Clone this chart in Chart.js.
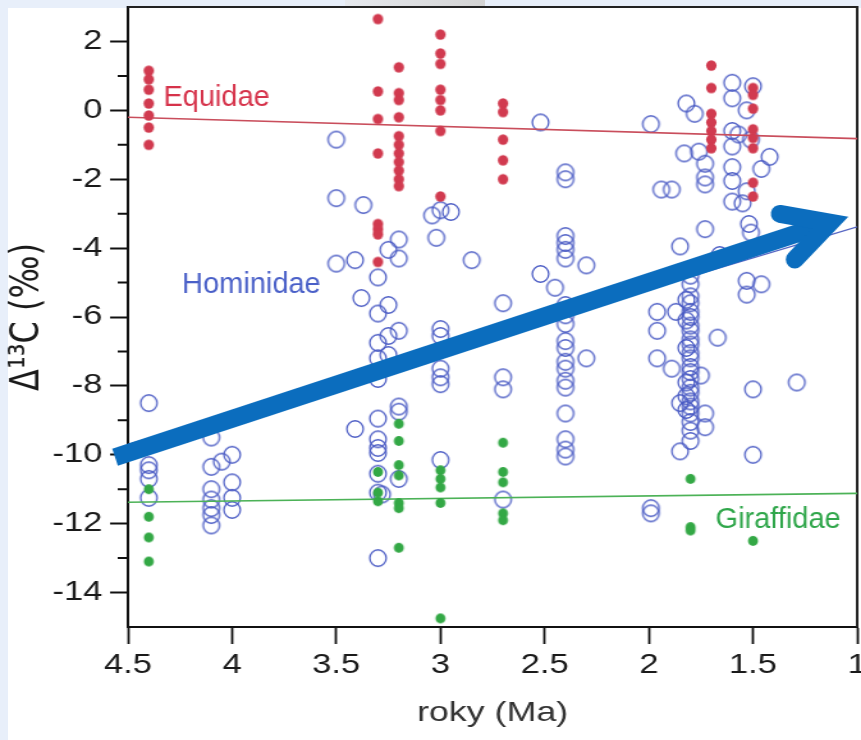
<!DOCTYPE html>
<html>
<head>
<meta charset="utf-8">
<script src="https://cdn.jsdelivr.net/npm/chart.js@4.4.1/dist/chart.umd.min.js"></script>
<style>
  html, body { margin: 0; padding: 0; }
  body { width: 861px; height: 740px; overflow: hidden; background: #e8effa; position: relative; }
  #sheet { position: absolute; left: 8px; top: 8px; right: 0; bottom: 0; background: #fff; }
  #tab { position: absolute; left: 345px; top: 0; width: 140px; height: 8px; background: linear-gradient(90deg, #e6e9ee, #d3d3d3); }
  #wrap { position: absolute; left: 0; top: 0; width: 673px; height: 740px; transform: scaleX(1.27935); transform-origin: 0 0; }
</style>
</head>
<body>
<div id="sheet"></div>
<div id="tab"></div>
<div id="wrap"><canvas id="chart"></canvas></div>
<script>
// axis ticks
const xTicks = [4.5, 4, 3.5, 3, 2.5, 2, 1.5, 1];
const yTicks = [-14, -12, -10, -8, -6, -4, -2, 0, 2];
const yMinorTicks = [-13, -11, -9, -7, -5, -3, -1, 1];

// [age (Ma), values of delta 13C at that age]
const equidaeColumns = [
  [4.4, [1.15, 0.9, 0.6, 0.2, -0.15, -0.5, -1.0]],
  [3.3, [2.65, 0.55, -0.25, -1.25, -3.3, -3.45, -3.6, -4.4]],
  [3.2, [1.25, 0.5, 0.3, -0.2, -0.75, -1.0, -1.25, -1.5, -1.75, -2.0, -2.2]],
  [3.0, [2.2, 1.65, 1.35, 0.6, 0.3, 0.0, -0.6, -2.5]],
  [2.7, [0.2, -0.05, -0.85, -1.45, -2.0]],
  [1.7, [1.3, 0.65, -0.1, -0.35, -0.6, -0.85, -1.1]],
  [1.5, [0.65, 0.45, 0.05, -0.55, -0.8, -1.1, -2.1, -2.5]]
];

const giraffidaeColumns = [
  [4.4, [-11.0, -11.8, -12.4, -13.1]],
  [3.3, [-10.5, -11.1, -11.35]],
  [3.2, [-9.1, -9.6, -10.3, -10.6, -11.4, -11.55, -12.7]],
  [3.0, [-10.45, -10.7, -10.95, -11.4, -14.75]],
  [2.7, [-9.65, -10.5, -10.8, -11.7, -11.9]],
  [1.8, [-10.7, -12.1, -12.2]],
  [1.5, [-12.5]]
];

const hominidaeColumns = [
  [4.4, [-8.5, -10.3, -10.45, -10.7, -11.25]],
  [4.1, [-9.5, -10.35, -11.0, -11.3, -11.55, -11.75, -12.05]],
  [4.05, [-10.2]],
  [4.0, [-10.0, -10.8, -11.25, -11.6]],
  [3.5, [-0.85, -2.55, -4.45]],
  [3.41, [-4.35, -9.25]],
  [3.38, [-5.45]],
  [3.37, [-2.75]],
  [3.3, [-4.85, -5.9, -6.75, -7.2, -7.8, -8.95, -9.55, -9.8, -9.95, -10.55, -11.1, -13.0]],
  [3.28, [-11.15]],
  [3.25, [-4.05, -5.65, -6.55, -7.1]],
  [3.2, [-3.75, -4.3, -6.4, -8.6, -8.75, -10.7]],
  [3.04, [-3.05]],
  [3.02, [-3.7]],
  [3.0, [-2.9, -6.35, -6.55, -7.5, -7.75, -7.95, -10.15]],
  [2.95, [-2.95]],
  [2.85, [-4.35]],
  [2.7, [-5.6, -7.75, -8.1, -11.3]],
  [2.52, [-0.35, -4.75]],
  [2.45, [-5.15]],
  [2.4, [-1.8, -2.0, -3.65, -3.85, -4.05, -4.3, -5.65, -5.95, -6.2, -6.7, -6.9, -7.3, -7.5, -7.85, -8.05, -8.8, -9.55, -9.85, -10.05]],
  [2.3, [-4.5, -7.2]],
  [1.99, [-0.4, -11.55, -11.7]],
  [1.96, [-5.85, -6.4, -7.2]],
  [1.94, [-2.3]],
  [1.89, [-2.3, -7.5]],
  [1.87, [-5.85]],
  [1.85, [-3.95, -8.5, -9.9]],
  [1.83, [-1.25]],
  [1.82, [0.2, -5.5, -6.1, -6.9, -7.9, -8.3, -8.7]],
  [1.8, [-4.8, -5.05, -5.4, -5.6, -5.85, -6.0, -6.25, -6.4, -6.65, -6.8, -7.05, -7.2, -7.45, -7.6, -7.8, -8.05, -8.2, -8.45, -8.6, -8.8, -9.05, -9.3, -9.6]],
  [1.78, [-0.1]],
  [1.76, [-1.2]],
  [1.75, [-7.7]],
  [1.73, [-1.55, -1.95, -2.15, -3.45, -8.8, -9.2]],
  [1.67, [-6.6]],
  [1.66, [-4.2]],
  [1.6, [0.8, 0.35, -0.6, -1.05, -1.65, -2.05, -2.65]],
  [1.57, [-0.7]],
  [1.55, [-2.7]],
  [1.53, [0.0, -2.35, -4.95, -5.35]],
  [1.52, [-3.3]],
  [1.51, [-0.85, -3.55]],
  [1.5, [0.7, -8.1, -10.0]],
  [1.46, [-1.7, -5.05]],
  [1.42, [-1.35]],
  [1.29, [-7.9]]
];

// fitted trend lines, [age, value] at both ends
const equidaeTrend = [[4.5, -0.2], [1, -0.82]];
const hominidaeTrend = [[4.5, -9.7], [1, -3.38]];
const giraffidaeTrend = [[4.5, -11.38], [1, -11.12]];

// in-plot annotations (data coordinates)
const taxonLabels = ["Equidae", "Hominidae", "Giraffidae"];
const taxonLabelAnchors = [[4.33, 0.13], [4.24, -5.3], [1.68, -12.14]];
const arrowFrom = [4.562, -10.07];
const arrowTo = [1.13, -3.26];

// the reference image is stretched sideways; draw in narrow space and stretch with css
const S = 861 / 673;
const FONT = "'Liberation Sans', Arial, Helvetica, sans-serif";
const RED = "#d13a4f", BLUE = "#4a5bc4", GREEN = "#33a845", ARROW = "#0b6dbe";
const labelColors = ["#d6334b", "#4a60c8", "#2fa64a"];

function toPoints(columns) {
  const out = [];
  columns.forEach(([x, ys]) => ys.forEach((y) => out.push({ x, y })));
  return out;
}
function linePoints(pairs) { return pairs.map(([x, y]) => ({ x, y })); }

// round marker drawn pre-squeezed so it comes out round after the css stretch
function marker(r, fill, stroke, lw) {
  const h = Math.ceil(2 * r + lw + 2);
  const w = Math.ceil(h / S) + 1;
  const c = document.createElement("canvas");
  c.width = w; c.height = h;
  const g = c.getContext("2d");
  g.translate(w / 2, h / 2);
  g.scale(1 / S, 1);
  g.beginPath();
  g.arc(0, 0, r, 0, Math.PI * 2);
  if (fill) { g.fillStyle = fill; g.fill(); }
  if (stroke) { g.lineWidth = lw; g.strokeStyle = stroke; g.stroke(); }
  return c;
}

// keep the edge tick labels from shrinking the plot area
function noLabelPadding(s) {
  s.paddingLeft = s.paddingRight = s.paddingTop = s.paddingBottom = 0;
}

const framePlugin = {
  id: "frame",
  beforeDatasetsDraw(chart) {
    const { ctx, chartArea: a } = chart;
    const ys = chart.scales.y;
    ctx.save();
    ctx.strokeStyle = "#222";
    ctx.lineWidth = 2;
    ctx.beginPath();
    ctx.moveTo(a.left, a.top);
    ctx.lineTo(a.right, a.top);
    ctx.lineTo(a.right, a.bottom);
    ctx.stroke();
    ctx.strokeStyle = "#111";
    ctx.beginPath();
    yMinorTicks.forEach((v) => {
      const p = ys.getPixelForValue(v);
      ctx.moveTo(a.left - 8, p);
      ctx.lineTo(a.left, p);
    });
    ctx.stroke();
    ctx.restore();
  }
};

const annotationPlugin = {
  id: "annotations",
  afterDatasetsDraw(chart) {
    const { ctx } = chart;
    const xs = chart.scales.x, ys = chart.scales.y;
    ctx.save();
    ctx.font = "29px " + FONT;
    ctx.textBaseline = "alphabetic";
    taxonLabels.forEach((t, i) => {
      const [lx, ly] = taxonLabelAnchors[i];
      ctx.save();
      ctx.translate(xs.getPixelForValue(lx), ys.getPixelForValue(ly));
      ctx.scale(1 / S, 1);
      ctx.fillStyle = labelColors[i];
      ctx.fillText(t, 0, 0);
      ctx.restore();
    });
    ctx.restore();

    // big arrow, worked out in the stretched (on screen) space
    ctx.save();
    ctx.scale(1 / S, 1);
    const x0 = xs.getPixelForValue(arrowFrom[0]) * S, y0 = ys.getPixelForValue(arrowFrom[1]);
    const x1 = xs.getPixelForValue(arrowTo[0]) * S, y1 = ys.getPixelForValue(arrowTo[1]);
    const ang = Math.atan2(y1 - y0, x1 - x0);
    const head = 51, spread = 28 * Math.PI / 180;
    ctx.strokeStyle = ARROW;
    ctx.lineWidth = 18;
    ctx.lineCap = "butt";
    ctx.beginPath();
    ctx.moveTo(x0, y0);
    ctx.lineTo(x1, y1);
    ctx.stroke();
    ctx.lineCap = "round";
    ctx.lineJoin = "miter";
    ctx.miterLimit = 10;
    ctx.beginPath();
    ctx.moveTo(x1 - head * Math.cos(ang + spread), y1 - head * Math.sin(ang + spread));
    ctx.lineTo(x1, y1);
    ctx.lineTo(x1 - head * Math.cos(ang - spread), y1 - head * Math.sin(ang - spread));
    ctx.stroke();
    ctx.restore();
  }
};

const trend = (pairs, color, width) => ({
  type: "scatter",
  data: linePoints(pairs),
  showLine: true,
  borderColor: color,
  borderWidth: width,
  pointRadius: 0,
  fill: false,
  order: 2
});

new Chart(document.getElementById("chart"), {
  type: "scatter",
  data: {
    datasets: [
      { label: "Hominidae", data: toPoints(hominidaeColumns), pointStyle: marker(8.2, null, BLUE, 1.6), pointRadius: 8, order: 3 },
      { label: "Equidae", data: toPoints(equidaeColumns), pointStyle: marker(5.2, RED, null, 0), pointRadius: 5, order: 1 },
      { label: "Giraffidae", data: toPoints(giraffidaeColumns), pointStyle: marker(5.0, GREEN, null, 0), pointRadius: 5, order: 1 },
      trend(equidaeTrend, "#c94e5c", 1.6),
      trend(hominidaeTrend, "#5363c2", 1.2),
      trend(giraffidaeTrend, "#4cb257", 1.6)
    ]
  },
  options: {
    responsive: true,
    maintainAspectRatio: false,
    animation: false,
    events: [],
    layout: { autoPadding: false, padding: { left: 0, right: 3, top: 7, bottom: 0 } },
    plugins: { legend: { display: false }, tooltip: { enabled: false } },
    scales: {
      x: {
        type: "linear",
        min: 1,
        max: 4.5,
        reverse: true,
        afterBuildTicks: (s) => { s.ticks = xTicks.map((v) => ({ value: v })); },
        afterFit: (s) => { s.height = 113; noLabelPadding(s); },
        grid: { drawOnChartArea: false, drawTicks: true, tickLength: 17, tickWidth: 1.8, tickColor: "#111" },
        border: { display: true, color: "#111", width: 2 },
        ticks: {
          autoSkip: false, maxRotation: 0, padding: 5, color: "#1a1a1a",
          font: { family: FONT, size: 27 },
          callback: (v) => String(v)
        },
        title: {
          display: true, text: "roky (Ma)", color: "#333",
          font: { family: FONT, size: 28 },
          padding: { top: 0, bottom: 10 }
        }
      },
      y: {
        type: "linear",
        min: -15,
        max: 3,
        afterBuildTicks: (s) => { s.ticks = yTicks.map((v) => ({ value: v })); },
        afterFit: (s) => { s.width = 100; noLabelPadding(s); },
        grid: { drawOnChartArea: false, drawTicks: true, tickLength: 14, tickWidth: 2, tickColor: "#111" },
        border: { display: true, color: "#111", width: 2 },
        ticks: {
          padding: 6, color: "#1a1a1a",
          font: { family: FONT, size: 27 },
          callback: (v) => String(v)
        },
        title: {
          display: true, text: "Δ¹³C (‰)", color: "#1a1a1a",
          font: { family: "'DejaVu Sans', " + FONT, size: 32 },
          padding: { top: 2, bottom: 0 }
        }
      }
    }
  },
  plugins: [framePlugin, annotationPlugin]
});
</script>
</body>
</html>
